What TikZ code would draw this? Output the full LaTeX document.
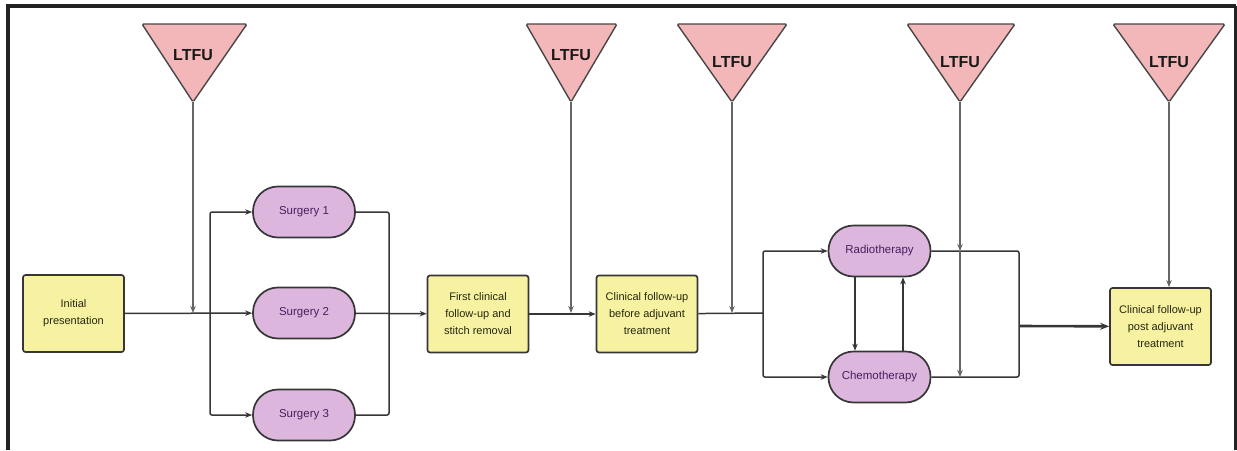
\documentclass[tikz,border=0pt]{standalone}
\usepackage{fontspec}
\setmainfont{Liberation Sans}
\usetikzlibrary{arrows.meta}

\definecolor{boxyellow}{HTML}{F7F2A2}
\definecolor{boxtext}{HTML}{26260E}
\definecolor{procpink}{HTML}{DDB6DE}
\definecolor{proctext}{HTML}{45205F}
\definecolor{ltfupink}{HTML}{F3B7B9}
\definecolor{edgegray}{HTML}{363636}
\definecolor{feedgray}{HTML}{666666}
\definecolor{framegray}{HTML}{222222}

\tikzset{
  stagebox/.style={draw=edgegray, line width=1.7pt, fill=boxyellow, rounded corners=2.5pt,
    minimum width=101pt, minimum height=77pt, align=center, inner sep=1pt,
    font=\fontsize{11}{17}\selectfont, text=boxtext},
  treatbox/.style={draw=edgegray, line width=1.7pt, fill=procpink, rounded corners=25pt,
    minimum width=102pt, minimum height=51pt, font=\fontsize{11.5}{13}\selectfont, text=proctext},
  ltfutri/.style={draw=feedgray!70!black, line width=1.4pt, fill=ltfupink, rounded corners=1.5pt},
  ltfulabel/.style={font=\fontsize{16}{18}\bfseries\selectfont, text=black!90, inner sep=0pt},
  link/.style={draw=edgegray, line width=1.5pt, rounded corners=2pt},
  flow/.style={link, -{Stealth[length=7pt,width=5.5pt]}},
  drop/.style={draw=feedgray, line width=1.3pt, -{Stealth[length=7pt,width=5.5pt]}},
}

\begin{document}
\begin{tikzpicture}[x=1pt, y=-1pt]
  \useasboundingbox (0,0) rectangle (1237,450);

  % outer frame (open at the bottom)
  \draw[framegray, line width=4pt] (8,450) -- (8,6) -- (1236,6);
  \draw[framegray, line width=3pt] (1235.5,6) -- (1235.5,450);

  % process stages
  \node[stagebox] (init)   at (73.5,313.5) {Initial\\presentation};
  \node[stagebox] (first)  at (478,314)    {First clinical\\follow-up and\\stitch removal};
  \node[stagebox] (before) at (647,314)    {Clinical follow-up\\before adjuvant\\treatment};
  \node[stagebox] (post)   at (1160.5,326.5) {Clinical follow-up\\post adjuvant\\treatment};

  % treatments
  \node[treatbox] (s1) at (304,212) {Surgery 1};
  \node[treatbox] (s2) at (304,313) {Surgery 2};
  \node[treatbox] (s3) at (304,415) {Surgery 3};
  \node[treatbox] (radio) at (879.5,251) {Radiotherapy};
  \node[treatbox] (chemo) at (879.5,377) {Chemotherapy};

  % loss-to-follow-up markers
  \coordinate (a1) at (193,102);
  \coordinate (a2) at (571,102);
  \coordinate (a3) at (732,102);
  \coordinate (a4) at (960,102);
  \coordinate (a5) at (1169,102);
  \draw[ltfutri] (142,24) -- (247,24) -- (a1) -- cycle;
  \draw[ltfutri] (526,24) -- (617,24) -- (a2) -- cycle;
  \draw[ltfutri] (677,24) -- (787,24) -- (a3) -- cycle;
  \draw[ltfutri] (907,24) -- (1015,24) -- (a4) -- cycle;
  \draw[ltfutri] (1113,24) -- (1225,24) -- (a5) -- cycle;
  \node[ltfulabel] (l1) at (193,55) {LTFU};
  \node[ltfulabel] (l2) at (571,55) {LTFU};
  \node[ltfulabel] (l3) at (732,62) {LTFU};
  \node[ltfulabel] (l4) at (960,62) {LTFU};
  \node[ltfulabel] (l5) at (1169,62) {LTFU};

  % junction points
  \coordinate (split1) at (210,313);
  \coordinate (merge1) at (389,313);
  \coordinate (split2) at (763,313);
  \coordinate (merge2) at (1019,326);
  \coordinate (j1) at (193,313);
  \coordinate (j2) at (571,313);
  \coordinate (j3) at (732,313);
  \coordinate (j4a) at (960,251);
  \coordinate (j4b) at (960,377);

  % main pathway
  \draw[flow] (init) -- (s2);
  \draw[flow] (split1) |- (s1);
  \draw[flow] (split1) |- (s3);
  \draw[link] (s1) -| (merge1);
  \draw[link] (s3) -| (merge1);
  \draw[flow] (s2) -- (first);
  \draw[flow] (first) -- (before);
  \draw[link] (before) -- (split2);
  \draw[flow] (split2) |- (radio);
  \draw[flow] (split2) |- (chemo);
  \draw[flow, line width=1.2pt] ([xshift=-24.5pt]radio.south) -- ([xshift=-24.5pt]chemo.north);
  \draw[flow] ([xshift=23.5pt]chemo.north) -- ([xshift=23.5pt]radio.south);
  \draw[link] (radio) -| (merge2);
  \draw[link] (chemo) -| (merge2);
  \draw[flow, line width=2.6pt, -{Stealth[length=9pt,width=7pt]}] (merge2) -- (post);

  % drop-out feeds
  \draw[drop] (a1) -- (j1);
  \draw[drop] (a2) -- (j2);
  \draw[drop] (a3) -- (j3);
  \draw[drop] (a4) -- (j4a);
  \draw[drop] (j4a) -- (j4b);
  \draw[drop] (a5) -- (a5 |- post.north);
\end{tikzpicture}
\end{document}
